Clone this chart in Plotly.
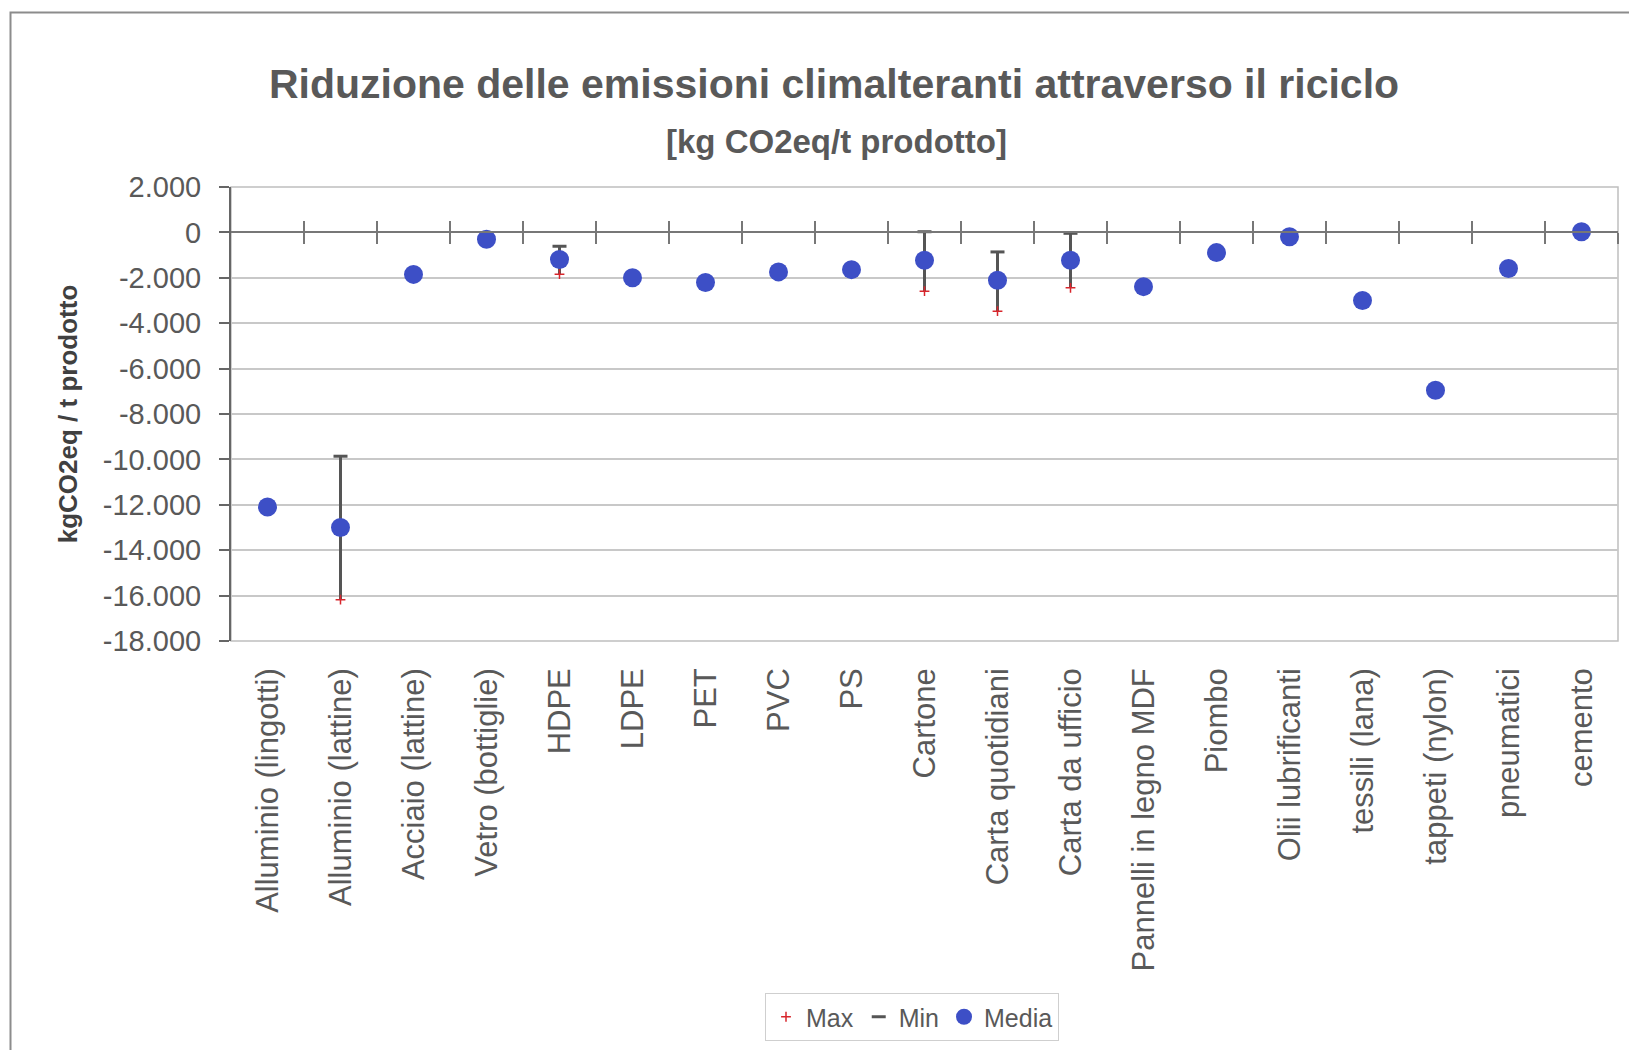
import plotly.graph_objects as go

# ---------------- data ----------------
categories = [
    "Alluminio (lingotti)", "Alluminio (lattine)", "Acciaio (lattine)", "Vetro (bottiglie)",
    "HDPE", "LDPE", "PET", "PVC", "PS", "Cartone", "Carta quotidiani", "Carta da ufficio",
    "Pannelli in legno MDF", "Piombo", "Olii lubrificanti", "tessili (lana)", "tappeti (nylon)",
    "pneumatici", "cemento",
]
media = [-12100, -13000, -1850, -300, -1190, -2000, -2210, -1740, -1640, -1230,
         -2110, -1230, -2390, -890, -190, -3000, -6950, -1590, 30]
max_vals = [None, -16180, None, None, -1840, None, None, None, None, -2590,
            -3470, -2440, None, None, None, None, None, None, None]
min_vals = [None, -9860, None, None, -610, None, None, None, None, 30,
            -860, -40, None, None, None, None, None, None, None]
y_tick_vals = [2000, 0, -2000, -4000, -6000, -8000, -10000, -12000, -14000, -16000, -18000]
y_tick_text = ["2.000", "0", "-2.000", "-4.000", "-6.000", "-8.000", "-10.000",
               "-12.000", "-14.000", "-16.000", "-18.000"]
y_range = [-18000, 2000]

title_text = "Riduzione delle emissioni climalteranti attraverso il riciclo"
subtitle_text = "[kg CO2eq/t prodotto]"
y_title = "kgCO2eq / t prodotto"

# ---------------- layout constants (page pixels) ----------------
PAGE_W, PAGE_H = 1637, 1058
OFF = 8                      # default body margin of the html page
W, H = PAGE_W - 2 * OFF, PAGE_H - 2 * OFF
L, R, T, B = 231 - OFF, 1618 - OFF, 187 - OFF, 642 - OFF
PW, PH = R - L, B - T
FONT = "Liberation Sans, Arial, sans-serif"
TXT = "#595959"

x_idx = list(range(len(categories)))
x_range = [-0.5, len(categories) - 0.5]
boundaries = [i + 0.5 for i in x_idx]
zero_pos = (0 - y_range[0]) / (y_range[1] - y_range[0])

hl_x, hl_y = [], []
for i, (lo, hi) in enumerate(zip(min_vals, max_vals)):
    if lo is None or hi is None:
        continue
    hl_x += [i, i, None]
    hl_y += [lo, hi, None]

fig = go.Figure()
fig.add_trace(go.Scatter(
    x=x_idx, y=max_vals, name="Max", mode="markers", xaxis="x3",
    marker=dict(symbol="cross-thin", size=7, line=dict(color="#d8262c", width=1.5)),
))
fig.add_trace(go.Scatter(
    x=hl_x, y=hl_y, mode="lines", showlegend=False, hoverinfo="skip",
    line=dict(color="#555555", width=3),
))
fig.add_trace(go.Scatter(
    x=x_idx, y=min_vals, name="Min", mode="markers",
    marker=dict(symbol="line-ew", size=10, line=dict(color="#555555", width=3)),
))
fig.add_trace(go.Scatter(
    x=x_idx, y=media, name="Media", mode="markers", xaxis="x2",
    marker=dict(symbol="circle", size=19, color="#3D4FC6"),
))

axis_common = dict(range=x_range, showgrid=False, zeroline=False, fixedrange=True)

fig.update_layout(
    width=W, height=H, autosize=False,
    margin=dict(l=L, r=W - R, t=T, b=H - B, pad=0),
    paper_bgcolor="white", plot_bgcolor="white",
    font=dict(family=FONT, color=TXT),
    title=dict(
        text="<b>" + title_text + "</b>",
        font=dict(family=FONT, size=41, color=TXT),
        x=(834 - OFF) / W, xref="container", xanchor="center",
        y=1 - (84 - OFF) / H, yref="container", yanchor="middle",
    ),
    xaxis=dict(
        **axis_common,
        tickmode="array", tickvals=x_idx, ticktext=categories, tickangle=-90,
        ticks="", showline=False,
        tickfont=dict(family=FONT, size=31, color=TXT),
        ticklabelstandoff=20,
    ),
    xaxis2=dict(
        **axis_common, overlaying="x", anchor="free", position=zero_pos, side="bottom",
        tickmode="array", tickvals=boundaries, ticks="outside", ticklen=11,
        tickwidth=1.5, tickcolor="#777777", showticklabels=False,
        showline=True, linecolor="#777777", linewidth=1.5,
    ),
    xaxis3=dict(
        **axis_common, overlaying="x", anchor="free", position=zero_pos, side="bottom",
        tickmode="array", tickvals=boundaries, ticks="inside", ticklen=11,
        tickwidth=1.5, tickcolor="#777777", showticklabels=False, showline=False,
    ),
    yaxis=dict(
        range=y_range, fixedrange=True,
        tickmode="array", tickvals=y_tick_vals, ticktext=y_tick_text,
        ticks="outside", ticklen=10, tickwidth=1.5, tickcolor="#666666",
        showline=True, linecolor="#666666", linewidth=2,
        showgrid=True, gridcolor="#c8c8c8", gridwidth=1.5, zeroline=False,
        tickfont=dict(family=FONT, size=29, color=TXT),
        ticklabelstandoff=12,
        title=dict(text="<b>" + y_title + "</b>",
                   font=dict(family=FONT, size=26, color="#404040"), standoff=18),
    ),
    legend=dict(
        orientation="h", x=(912 - OFF - L) / PW, xanchor="center",
        y=(B - (993 - OFF)) / PH, yanchor="top",
        bordercolor="#cfcfcf", borderwidth=1, bgcolor="white",
        font=dict(family=FONT, size=25, color=TXT),
        itemwidth=30, tracegroupgap=0,
    ),
    annotations=[dict(
        text="<b>" + subtitle_text + "</b>", xref="paper", yref="paper",
        x=(836 - OFF - L) / PW, y=(B - (141 - OFF)) / PH,
        xanchor="center", yanchor="middle",
        showarrow=False, font=dict(family=FONT, size=33, color=TXT),
    )],
    shapes=[
        dict(type="rect", xref="paper", yref="paper", x0=0, x1=1, y0=0, y1=1,
             line=dict(color="#bfbfbf", width=1.5), layer="below"),
        dict(type="rect", xref="paper", yref="paper",
             x0=(10.5 - OFF - L) / PW, x1=(W + 10 - L) / PW,
             y0=(B - (H + 10)) / PH, y1=(B - (12 - OFF)) / PH,
             line=dict(color="#8c8c8c", width=2), layer="below"),
    ],
)

fig.write_html("out.html")
